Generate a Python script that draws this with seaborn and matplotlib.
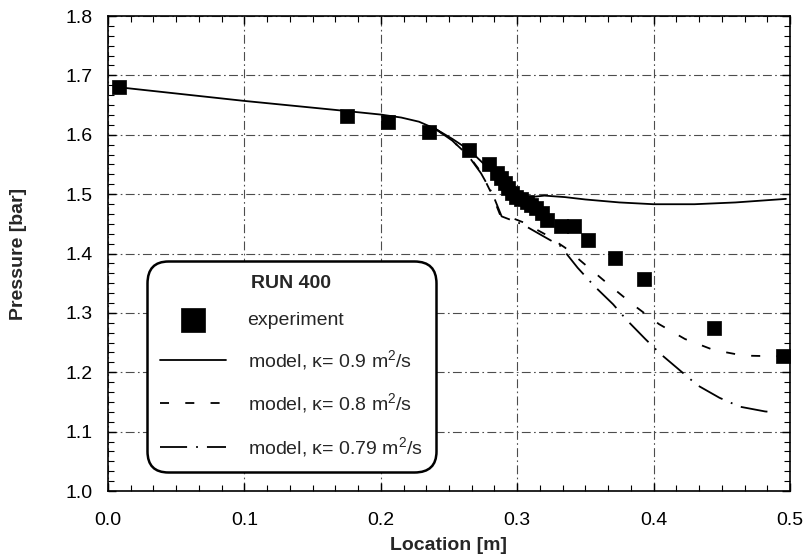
import matplotlib
matplotlib.use("Agg")
import matplotlib.pyplot as plt
import seaborn as sns
from matplotlib.ticker import AutoMinorLocator, FormatStrFormatter

# ---- data ----
exp_x = [0.008, 0.175, 0.205, 0.235, 0.265, 0.279, 0.285, 0.288, 0.291, 0.293,
         0.296, 0.299, 0.303, 0.307, 0.310, 0.314, 0.318, 0.322, 0.332, 0.342,
         0.352, 0.372, 0.393, 0.444, 0.495]
exp_y = [1.680, 1.632, 1.622, 1.605, 1.575, 1.551, 1.535, 1.527, 1.518, 1.510,
         1.502, 1.495, 1.491, 1.487, 1.482, 1.477, 1.468, 1.456, 1.446, 1.446,
         1.423, 1.393, 1.357, 1.274, 1.228]

k09_x = [0.008, 0.100, 0.166, 0.200, 0.215, 0.228, 0.240, 0.2525, 0.265, 0.275,
         0.285, 0.293, 0.300, 0.310, 0.320, 0.335, 0.350, 0.375, 0.400, 0.430,
         0.460, 0.497]
k09_y = [1.680, 1.657, 1.642, 1.634, 1.629, 1.622, 1.610, 1.593, 1.574, 1.552,
         1.530, 1.510, 1.497, 1.495, 1.4975, 1.495, 1.491, 1.486, 1.483, 1.483,
         1.486, 1.492]

k08_x = [0.240, 0.2525, 0.265, 0.2735, 0.282, 0.288, 0.295, 0.305, 0.320, 0.335,
         0.352, 0.369, 0.386, 0.404, 0.423, 0.444, 0.466, 0.488, 0.497]
k08_y = [1.610, 1.590, 1.563, 1.537, 1.497, 1.462, 1.461, 1.452, 1.433, 1.410,
         1.377, 1.344, 1.312, 1.281, 1.256, 1.2375, 1.228, 1.227, 1.227]

k079_x = [0.240, 0.2525, 0.265, 0.2735, 0.282, 0.2886, 0.304, 0.320, 0.3315, 0.3443,
          0.3566, 0.3703, 0.3803, 0.3939, 0.405, 0.4322, 0.4483, 0.4632, 0.4817, 0.487]
k079_y = [1.610, 1.590, 1.562, 1.535, 1.500, 1.4625, 1.449, 1.428, 1.413, 1.376,
          1.345, 1.3145, 1.288, 1.256, 1.231, 1.178, 1.157, 1.142, 1.134, 1.133]

x_ticks = [0.0, 0.1, 0.2, 0.3, 0.4, 0.5]
y_ticks = [1.0, 1.1, 1.2, 1.3, 1.4, 1.5, 1.6, 1.7, 1.8]

sns.set_theme(style="ticks")
plt.rcParams["font.family"] = ["Liberation Sans", "DejaVu Sans"]
plt.rcParams["mathtext.fontset"] = "custom"
plt.rcParams["mathtext.rm"] = "Liberation Sans"
plt.rcParams["mathtext.it"] = "Liberation Sans:italic"
plt.rcParams["mathtext.bf"] = "Liberation Sans:bold"

fig = plt.figure(figsize=(8.04, 5.56), dpi=100)
ax = fig.add_axes([0.1343, 0.1169, 0.8483, 0.8543])

sns.lineplot(x=k09_x, y=k09_y, ax=ax, color="black", linewidth=1.3,
             label="model, \u03ba= 0.9 m$^2$/s", sort=False, zorder=2)
sns.lineplot(x=k08_x, y=k08_y, ax=ax, color="black", linewidth=1.3,
             linestyle=(0, (5, 9)), label="model, \u03ba= 0.8 m$^2$/s", sort=False, zorder=2)
sns.lineplot(x=k079_x, y=k079_y, ax=ax, color="black", linewidth=1.3,
             linestyle=(0, (15, 5, 1, 5)), label="model, \u03ba= 0.79 m$^2$/s", sort=False, zorder=2)
sns.scatterplot(x=exp_x, y=exp_y, ax=ax, marker="s", s=100, color="black",
                edgecolor="black", linewidth=0.5, label="experiment", zorder=3)

ax.set_xlim(0.0, 0.5)
ax.set_ylim(1.0, 1.8)
ax.set_xticks(x_ticks)
ax.set_yticks(y_ticks)
ax.xaxis.set_major_formatter(FormatStrFormatter("%.1f"))
ax.yaxis.set_major_formatter(FormatStrFormatter("%.1f"))
ax.xaxis.set_minor_locator(AutoMinorLocator(6))
ax.yaxis.set_minor_locator(AutoMinorLocator(6))
ax.tick_params(which="both", direction="in", top=True, right=True, colors="black",
               labelsize=14)
ax.tick_params(which="major", length=6, width=1.0)
ax.tick_params(axis="x", which="major", pad=15)
ax.tick_params(axis="y", which="major", pad=11)
ax.tick_params(which="minor", length=4, width=0.8)
for s in ax.spines.values():
    s.set_color("black")
    s.set_linewidth(1.2)

ax.grid(True, which="major", color="0.3", linewidth=0.8, linestyle=(0, (8, 3, 1.5, 3)))

ax.set_xlabel("Location [m]", fontsize=14, fontweight="bold", labelpad=6)
ax.set_ylabel("Pressure [bar]", fontsize=14, fontweight="bold", labelpad=28)

handles, labels = ax.get_legend_handles_labels()
order = [3, 0, 1, 2]
leg = ax.legend([handles[i] for i in order], [labels[i] for i in order],
                title="RUN 400", loc="lower left", bbox_to_anchor=(0.057, 0.04),
                borderaxespad=0,
                fontsize=14, title_fontproperties={"weight": "bold", "size": 14},
                handlelength=3.4, handletextpad=1.1, borderpad=0.68,
                labelspacing=1.0, markerscale=1.7, frameon=True,
                fancybox=True, framealpha=1, edgecolor="black")
leg.get_frame().set_linewidth(1.8)
leg.get_frame().set_boxstyle("round,pad=0,rounding_size=1.1")
leg.set_zorder(5)

fig.savefig("out.png", dpi=100)
